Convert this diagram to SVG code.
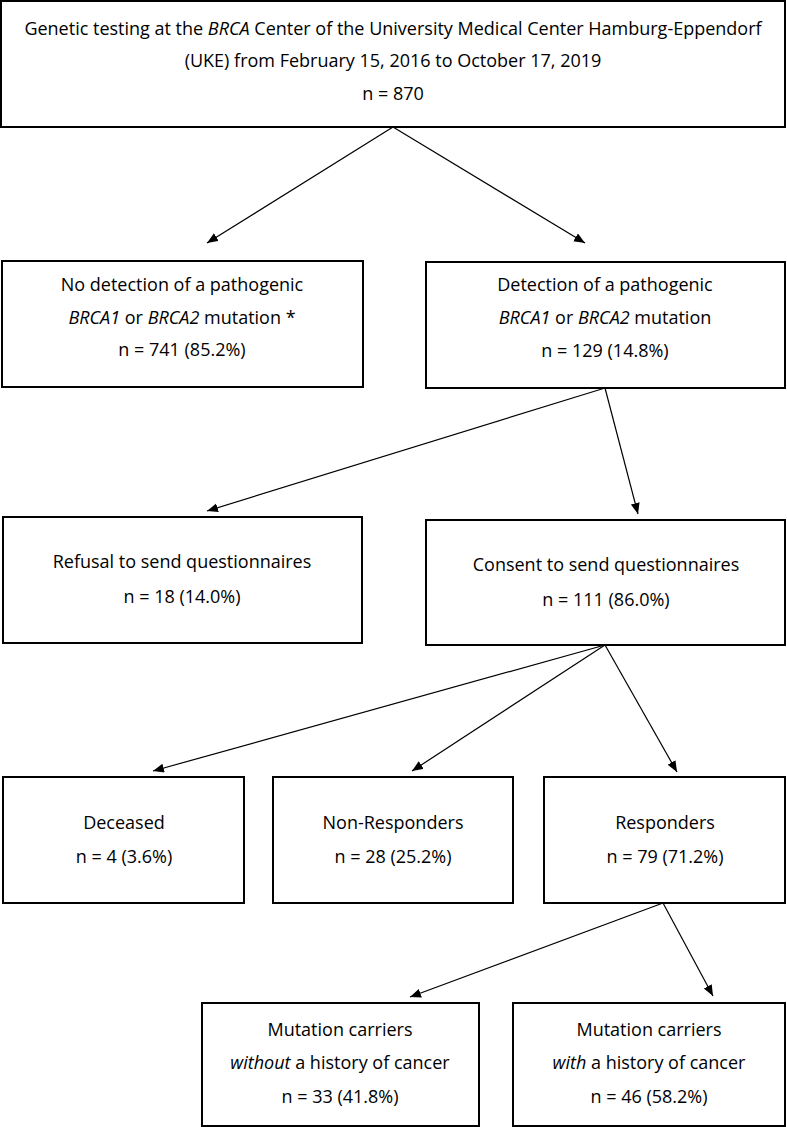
<svg xmlns="http://www.w3.org/2000/svg" width="787" height="1127" viewBox="0 0 787 1127">
<style>
.box{fill:#fff;stroke:#000;stroke-width:2}
.t{font-family:"Open Sans","Noto Sans",sans-serif;font-size:18px;fill:#000;text-anchor:middle}
.i{font-style:italic}
.c{stroke:#000;stroke-width:1.2;fill:none;marker-end:url(#ah)}
</style>
<defs>
<marker id="ah" markerUnits="userSpaceOnUse" markerWidth="12" markerHeight="10" refX="11" refY="4.5" orient="auto">
<path d="M0,0 L11,4.5 L0,9 z" fill="#000"/>
</marker>
</defs>
<rect width="787" height="1127" fill="#fff"/>
<g id="connectors">
<line class="c" x1="393" y1="127" x2="207" y2="243"/>
<line class="c" x1="393" y1="127" x2="585" y2="243"/>
<line class="c" x1="605" y1="388" x2="207" y2="511"/>
<line class="c" x1="605" y1="388" x2="638" y2="514"/>
<line class="c" x1="605" y1="645" x2="153" y2="771"/>
<line class="c" x1="605" y1="645" x2="412" y2="771"/>
<line class="c" x1="605" y1="645" x2="677" y2="772"/>
<line class="c" x1="663" y1="903" x2="410" y2="997"/>
<line class="c" x1="663" y1="903" x2="713" y2="996"/>
</g>
<g id="n_top">
<rect class="box" x="1" y="1" width="784" height="126"/>
<text class="t" x="393" y="35">Genetic testing at the <tspan class="i">BRCA</tspan> Center of the University Medical Center Hamburg-Eppendorf</text>
<text class="t" x="393" y="67">(UKE) from February 15, 2016 to October 17, 2019</text>
<text class="t" x="393" y="100">n = 870</text>
</g>
<g id="n_nodetect">
<rect class="box" x="2" y="261" width="361" height="126"/>
<text class="t" x="182" y="291">No detection of a pathogenic</text>
<text class="t" x="182" y="324"><tspan class="i">BRCA1</tspan> or <tspan class="i">BRCA2</tspan> mutation *</text>
<text class="t" x="182" y="356">n = 741 (85.2%)</text>
</g>
<g id="n_detect">
<rect class="box" x="426" y="262" width="359" height="126"/>
<text class="t" x="605" y="291">Detection of a pathogenic</text>
<text class="t" x="605" y="324"><tspan class="i">BRCA1</tspan> or <tspan class="i">BRCA2</tspan> mutation</text>
<text class="t" x="605" y="357">n = 129 (14.8%)</text>
</g>
<g id="n_refusal">
<rect class="box" x="3" y="517" width="359" height="126"/>
<text class="t" x="182" y="568">Refusal to send questionnaires</text>
<text class="t" x="182" y="603">n = 18 (14.0%)</text>
</g>
<g id="n_consent">
<rect class="box" x="426" y="520" width="359" height="125"/>
<text class="t" x="606" y="571">Consent to send questionnaires</text>
<text class="t" x="606" y="606">n = 111 (86.0%)</text>
</g>
<g id="n_deceased">
<rect class="box" x="3" y="777" width="241" height="126"/>
<text class="t" x="124" y="829">Deceased</text>
<text class="t" x="124" y="863">n = 4 (3.6%)</text>
</g>
<g id="n_nonresp">
<rect class="box" x="273" y="777" width="240" height="126"/>
<text class="t" x="393" y="829">Non-Responders</text>
<text class="t" x="393" y="863">n = 28 (25.2%)</text>
</g>
<g id="n_resp">
<rect class="box" x="544" y="777" width="241" height="126"/>
<text class="t" x="665" y="829">Responders</text>
<text class="t" x="665" y="863">n = 79 (71.2%)</text>
</g>
<g id="n_without">
<rect class="box" x="202" y="1003" width="277" height="123"/>
<text class="t" x="340" y="1036">Mutation carriers</text>
<text class="t" x="340" y="1069"><tspan class="i">without</tspan> a history of cancer</text>
<text class="t" x="340" y="1103">n = 33 (41.8%)</text>
</g>
<g id="n_with">
<rect class="box" x="513" y="1003" width="272" height="123"/>
<text class="t" x="649" y="1036">Mutation carriers</text>
<text class="t" x="649" y="1069"><tspan class="i">with</tspan> a history of cancer</text>
<text class="t" x="649" y="1103">n = 46 (58.2%)</text>
</g>
</svg>
